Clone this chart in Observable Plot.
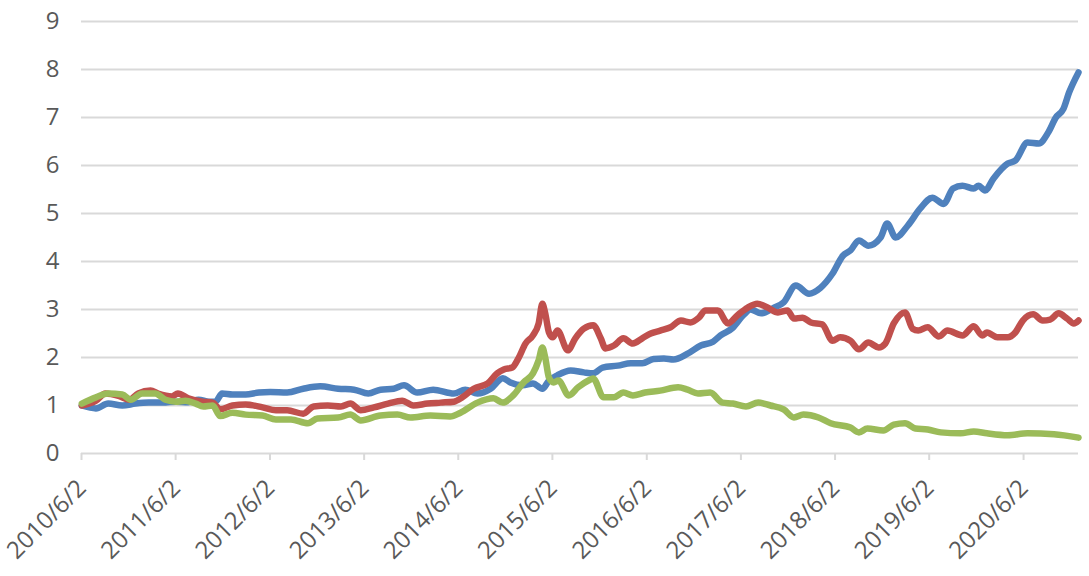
<!DOCTYPE html>
<html><head><meta charset="utf-8">
<script src="https://cdn.jsdelivr.net/npm/d3@7"></script>
<script src="https://cdn.jsdelivr.net/npm/@observablehq/plot@0.6"></script>
<style>html,body{margin:0;padding:0;background:#fff}</style>
</head><body><div id="chart"></div>
<script>
// x tick labels (category dates) and y ticks
const xTickLabels = ["2010/6/2","2011/6/2","2012/6/2","2013/6/2","2014/6/2","2015/6/2","2016/6/2","2017/6/2","2018/6/2","2019/6/2","2020/6/2"];
const yTicks = [0,1,2,3,4,5,6,7,8,9];
const xEnd = 2021.00; // last observation (decimal year)

// series: [decimal year, value]
const blue = [
 [2010.42,1.0],[2010.57,0.94],[2010.70,1.04],[2010.85,1.0],[2010.99,1.04],[2011.13,1.06],[2011.28,1.06],[2011.42,1.08],[2011.55,1.07],[2011.66,1.12],[2011.77,1.08],[2011.84,1.08],[2011.91,1.25],
 [2012.02,1.23],[2012.16,1.23],[2012.30,1.27],[2012.42,1.28],[2012.60,1.27],[2012.77,1.35],[2012.95,1.4],
 [2013.14,1.35],[2013.31,1.33],[2013.46,1.25],[2013.59,1.33],[2013.73,1.35],[2013.84,1.42],[2013.98,1.27],
 [2014.15,1.33],[2014.37,1.25],[2014.49,1.33],[2014.62,1.25],[2014.76,1.35],[2014.89,1.57],[2014.97,1.48],
 [2015.10,1.42],[2015.21,1.46],[2015.31,1.35],[2015.38,1.52],[2015.47,1.63],[2015.61,1.73],[2015.75,1.69],[2015.85,1.67],[2015.95,1.79],
 [2016.11,1.83],[2016.25,1.88],[2016.37,1.88],[2016.49,1.97],[2016.60,1.98],[2016.70,1.96],[2016.85,2.08],[2016.99,2.25],
 [2017.12,2.33],[2017.20,2.46],[2017.33,2.62],[2017.45,2.9],[2017.52,3.0],[2017.63,2.92],[2017.76,3.03],[2017.87,3.15],
 [2018.00,3.5],[2018.14,3.33],[2018.26,3.45],[2018.39,3.75],[2018.50,4.12],[2018.58,4.23],[2018.67,4.44],[2018.77,4.33],[2018.90,4.5],[2018.97,4.79],
 [2019.06,4.5],[2019.19,4.75],[2019.32,5.1],[2019.45,5.33],[2019.57,5.2],[2019.67,5.52],[2019.77,5.58],[2019.89,5.52],[2019.94,5.58],
 [2020.01,5.48],[2020.10,5.73],[2020.25,6.04],[2020.33,6.1],[2020.46,6.48],[2020.58,6.46],[2020.68,6.69],[2020.76,7.0],[2020.84,7.18],[2020.90,7.52],[2021.00,7.94]
];
const red = [
 [2010.42,1.0],[2010.57,1.1],[2010.67,1.25],[2010.81,1.2],[2010.92,1.12],[2011.02,1.25],[2011.15,1.31],[2011.23,1.25],[2011.38,1.19],[2011.44,1.25],[2011.55,1.15],[2011.70,1.08],[2011.81,1.06],[2011.89,0.92],
 [2012.02,1.0],[2012.16,1.02],[2012.34,0.96],[2012.48,0.9],[2012.60,0.9],[2012.77,0.83],[2012.88,0.98],
 [2013.03,1.0],[2013.17,0.98],[2013.27,1.04],[2013.38,0.9],[2013.52,0.96],[2013.67,1.04],[2013.82,1.1],[2013.94,1.0],
 [2014.09,1.04],[2014.23,1.06],[2014.37,1.08],[2014.46,1.17],[2014.58,1.35],[2014.73,1.46],[2014.83,1.67],[2014.90,1.75],[2014.99,1.79],
 [2015.06,2.0],[2015.13,2.29],[2015.21,2.46],[2015.27,2.71],[2015.31,3.12],[2015.34,2.92],[2015.38,2.52],[2015.42,2.42],[2015.47,2.56],[2015.58,2.15],[2015.66,2.4],[2015.75,2.6],[2015.85,2.67],[2015.93,2.4],[2015.98,2.19],
 [2016.07,2.25],[2016.17,2.4],[2016.27,2.29],[2016.37,2.4],[2016.46,2.5],[2016.56,2.56],[2016.67,2.63],[2016.78,2.77],[2016.88,2.73],[2016.97,2.83],
 [2017.04,2.98],[2017.17,2.98],[2017.28,2.71],[2017.38,2.88],[2017.49,3.04],[2017.59,3.12],[2017.70,3.04],[2017.81,2.94],[2017.91,2.98],[2017.98,2.81],
 [2018.07,2.83],[2018.16,2.73],[2018.28,2.69],[2018.39,2.35],[2018.47,2.42],[2018.58,2.35],[2018.67,2.17],[2018.77,2.31],[2018.88,2.21],[2018.95,2.29],
 [2019.04,2.71],[2019.16,2.94],[2019.24,2.6],[2019.30,2.56],[2019.40,2.63],[2019.52,2.44],[2019.61,2.56],[2019.77,2.46],[2019.89,2.65],[2019.98,2.46],
 [2020.03,2.52],[2020.14,2.42],[2020.25,2.42],[2020.33,2.52],[2020.41,2.77],[2020.52,2.9],[2020.62,2.77],[2020.70,2.79],[2020.79,2.92],[2020.88,2.81],[2020.95,2.71],[2021.00,2.77]
];
const green = [
 [2010.42,1.04],[2010.57,1.17],[2010.70,1.25],[2010.85,1.23],[2010.94,1.12],[2011.06,1.25],[2011.20,1.25],[2011.31,1.12],[2011.42,1.08],[2011.52,1.1],[2011.63,1.04],[2011.71,0.98],[2011.81,1.0],[2011.89,0.78],
 [2012.02,0.85],[2012.16,0.81],[2012.34,0.79],[2012.48,0.71],[2012.64,0.71],[2012.82,0.63],[2012.92,0.73],
 [2013.14,0.75],[2013.27,0.81],[2013.38,0.69],[2013.59,0.79],[2013.77,0.81],[2013.91,0.75],
 [2014.12,0.79],[2014.33,0.77],[2014.44,0.85],[2014.62,1.06],[2014.79,1.15],[2014.89,1.06],
 [2015.00,1.21],[2015.11,1.48],[2015.21,1.67],[2015.27,1.94],[2015.31,2.21],[2015.34,2.0],[2015.38,1.58],[2015.43,1.48],[2015.48,1.52],[2015.59,1.21],[2015.69,1.38],[2015.80,1.52],[2015.85,1.56],[2015.96,1.17],
 [2016.07,1.17],[2016.17,1.27],[2016.27,1.21],[2016.40,1.27],[2016.56,1.31],[2016.75,1.38],[2016.85,1.33],[2016.96,1.25],
 [2017.09,1.27],[2017.22,1.06],[2017.33,1.04],[2017.47,0.98],[2017.60,1.06],[2017.73,1.0],[2017.87,0.92],[2017.98,0.75],
 [2018.08,0.81],[2018.24,0.75],[2018.37,0.63],[2018.58,0.54],[2018.67,0.44],[2018.76,0.52],[2018.93,0.48],
 [2019.04,0.6],[2019.16,0.63],[2019.27,0.52],[2019.40,0.5],[2019.54,0.44],[2019.75,0.42],[2019.89,0.46],
 [2020.03,0.42],[2020.25,0.38],[2020.46,0.42],[2020.74,0.4],[2021.00,0.33]
];

const toDate = t => {
  const y = Math.floor(t);
  const a = Date.UTC(y, 0, 1), b = Date.UTC(y + 1, 0, 1);
  return new Date(a + (t - y) * (b - a));
};
const parseLabel = s => { const [y, m, d] = s.split("/").map(Number); return new Date(Date.UTC(y, m - 1, d)); };
const xTickDates = xTickLabels.map(parseLabel);
const toRows = arr => arr.map(([t, v]) => ({date: toDate(t), value: v}));

const lineOpts = {x: "date", y: "value", strokeWidth: 6.5, strokeLinejoin: "round", strokeLinecap: "round", curve: "monotone-x"};

const chart = Plot.plot({
  width: 1089, height: 576,
  marginLeft: 81, marginRight: 11, marginTop: 21, marginBottom: 123,
  style: {fontFamily: "'Open Sans', sans-serif", background: "#fff", overflow: "visible"},
  x: {type: "utc", domain: [xTickDates[0], toDate(xEnd)], axis: null},
  y: {domain: [0, 9], axis: null},
  marks: [
    Plot.ruleY(yTicks, {stroke: "#d9d9d9", strokeWidth: 2}),
    Plot.axisX(xTickDates, {tickSize: 7, tickFormat: () => "", stroke: "#d9d9d9", strokeWidth: 2, label: null}),
    Plot.axisY(yTicks, {tickSize: 0, tickPadding: 22, fontSize: 24, color: "#595959", label: null}),
    Plot.text(xTickDates, {x: d => d, frameAnchor: "bottom", text: (d, i) => xTickLabels[i], rotate: -45, textAnchor: "end", dx: 6, dy: 36, fontSize: 24, fill: "#595959"}),
    Plot.line(toRows(blue), {...lineOpts, stroke: "#4F81BD"}),
    Plot.line(toRows(red), {...lineOpts, stroke: "#C0504D"}),
    Plot.line(toRows(green), {...lineOpts, stroke: "#9BBB59"})
  ]
});
document.getElementById("chart").append(chart);
</script>
</body></html>
